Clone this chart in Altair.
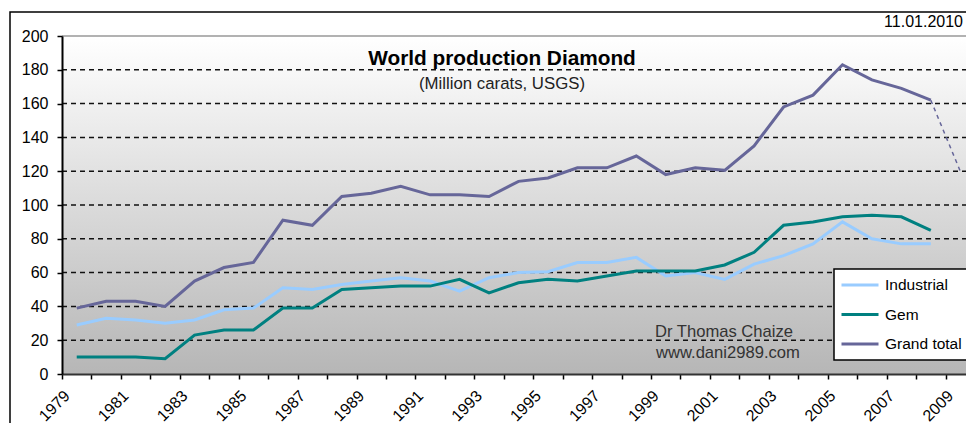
import altair as alt
import pandas as pd

# ---------------- data ----------------
years = [str(y) for y in range(1979, 2010)]          # 31 categories on the axis
data_years = [str(y) for y in range(1979, 2009)]     # 30 measured years

industrial = [29, 33, 32, 30, 32, 38, 39, 51, 50, 53,
              55, 57, 55, 49, 57, 60, 60.5, 66, 66, 69,
              58, 60, 56, 65, 70, 77, 90, 80, 77, 77]
gem = [10, 10, 10, 9, 23, 26, 26, 39, 39, 50,
       51, 52, 52, 56, 48, 54, 56, 55, 58, 61,
       61, 61, 64.5, 72, 88, 90, 93, 94, 93, 85]
grand_total = [39, 43, 43, 40, 55, 63, 66, 91, 88, 105,
               107, 111, 106, 106, 105, 114, 116, 122, 122, 129,
               118, 122, 120.5, 135, 158, 165, 183, 174, 169, 162]

projection_years = ["2008", "2009"]
projection_total = [162, 120]

series_names = ["Industrial", "Gem", "Grand total"]
series_colors = ["#99CCFF", "#008080", "#666699"]

grid_values = [20, 40, 60, 80, 100, 120, 140, 160, 180]
top_value = [200]
y_ticks = [0, 20, 40, 60, 80, 100, 120, 140, 160, 180, 200]

title_text = "World production Diamond"
subtitle_text = "(Million carats, USGS)"
date_text = "11.01.2010"
credit_lines = ["Dr Thomas Chaize", "www.dani2989.com"]

# ---------------- tables ----------------
rows = []
for name, vals in zip(series_names, [industrial, gem, grand_total]):
    for yr, v in zip(data_years, vals):
        rows.append({"year": yr, "value": v, "series": name})
df = pd.DataFrame(rows)
proj = pd.DataFrame({"year": projection_years, "value": projection_total})
grid_df = pd.DataFrame({"value": grid_values})
top_df = pd.DataFrame({"value": top_value})
one = pd.DataFrame({"k": [0]})

W, H = 904, 338          # visible drawing width (svg is clipped at the page edge)
XR = 913                 # full extent of the category axis (runs past the edge)
FONT = "Liberation Sans"

x_scale = alt.Scale(type="band", domain=years, paddingInner=0, paddingOuter=0,
                    range=[0, XR])
y_scale = alt.Scale(domain=[0, 200], nice=False)

x_axis = alt.Axis(
    title=None, tickBand="extent", grid=False, zindex=1,
    labelExpr="parseInt(datum.value) % 2 == 1 ? datum.label : ''",
    labelAngle=-45, labelAlign="right", labelBaseline="middle",
    labelFontSize=16, labelFont=FONT, labelColor="black",
    labelPadding=14, labelOffset=-10, labelOverlap=False, labelBound=False,
    tickColor="black", tickSize=5, tickWidth=1.5,
    domainColor="#333333", domainWidth=2,
)
y_axis = alt.Axis(
    title=None, values=y_ticks, grid=False, zindex=1,
    labelFontSize=16, labelFont=FONT, labelColor="black", labelPadding=9,
    tickColor="black", tickSize=5, tickWidth=1.5,
    domainColor="black", domainWidth=2,
)

background = alt.Chart(one).mark_rect(
    fill=alt.Gradient(
        gradient="linear", x1=0, y1=0, x2=0, y2=1,
        stops=[alt.GradientStop(color="#ffffff", offset=0),
               alt.GradientStop(color="#b6b6b6", offset=1)],
    ),
    stroke=None,
).encode(x=alt.value(0), x2=alt.value(XR), y=alt.value(0), y2=alt.value(H))

frame = alt.Chart(one).mark_rect(
    filled=False, stroke="black", strokeWidth=1.5
).encode(x=alt.value(-52), x2=alt.value(XR + 60), y=alt.value(-24), y2=alt.value(H + 150))

grid = alt.Chart(grid_df).mark_rule(
    color="#111111", strokeWidth=1.5, strokeDash=[5, 4]
).encode(
    y=alt.Y("value:Q", scale=y_scale, axis=y_axis, title=None),
    x=alt.value(0), x2=alt.value(XR),
)

top_line = alt.Chart(top_df).mark_rule(
    color="#999999", strokeWidth=1.5
).encode(
    y=alt.Y("value:Q", scale=y_scale, axis=y_axis, title=None),
    x=alt.value(0), x2=alt.value(XR),
)

lines = alt.Chart(df).mark_line(strokeWidth=3).encode(
    x=alt.X("year:O", scale=x_scale, axis=x_axis, bandPosition=0.5, title=None),
    y=alt.Y("value:Q", scale=y_scale, axis=y_axis, title=None),
    color=alt.Color(
        "series:N",
        scale=alt.Scale(domain=series_names, range=series_colors),
        sort=series_names,
        legend=alt.Legend(
            title=None, orient="none", legendX=772, legendY=233,
            symbolType="stroke", symbolSize=1369, symbolStrokeWidth=3,
            clipHeight=20, rowPadding=9.5, padding=6,
            strokeColor="black", fillColor="white",
            labelFontSize=15.5, labelFont=FONT, labelColor="black",
            labelOffset=5, labelLimit=300,
        ),
    ),
)

projection = alt.Chart(proj).mark_line(
    strokeWidth=1.5, strokeDash=[4, 4], color="#666699"
).encode(
    x=alt.X("year:O", scale=x_scale, axis=x_axis, bandPosition=0.5, title=None),
    y=alt.Y("value:Q", scale=y_scale, axis=y_axis, title=None),
)

def label(text, x, y, size, align="left", weight="normal", color="black"):
    return alt.Chart(one).mark_text(
        x=x, y=y, align=align, baseline="alphabetic", fontSize=size,
        fontWeight=weight, font=FONT, color=color,
    ).encode(text=alt.value(text))

texts = [
    label(title_text, 440, 29, 20.8, align="center", weight="bold"),
    label(subtitle_text, 440, 53, 16.8, align="center", color="#222222"),
    label(date_text, 901, -9, 16, align="right"),
    label(credit_lines[0], 593, 301, 16.6, color="#333333"),
    label(credit_lines[1], 594, 322, 16.6, color="#333333"),
]

chart = alt.layer(
    background, grid, top_line, projection, lines, frame, *texts
).properties(
    width=W, height=H,
    autosize=alt.AutoSizeParams(type="none"),
    padding={"left": 54, "top": 28, "right": 0, "bottom": 49},
    background="white",
).configure_view(stroke=None).configure_legend(strokeWidth=1.5)

chart.save("out.html", embed_options={"renderer": "svg", "actions": False})
